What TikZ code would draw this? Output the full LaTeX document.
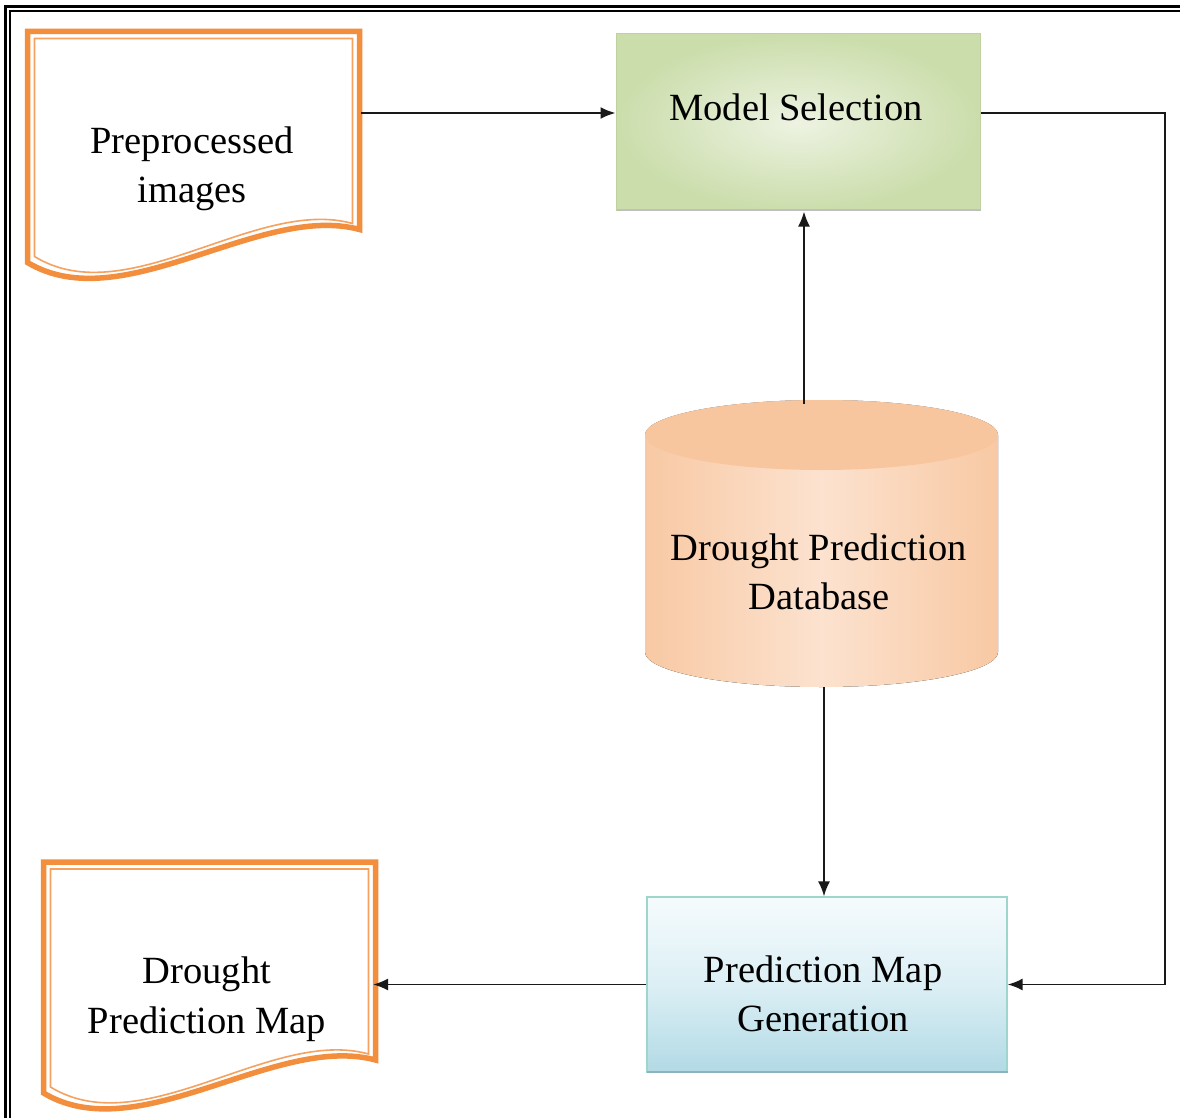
\documentclass[tikz,border=0pt]{standalone}
\usepackage{fontspec}
\setmainfont{Liberation Serif}
\usetikzlibrary{arrows.meta,calc}

\definecolor{docorange}{HTML}{F28E3C}
\definecolor{docorangelight}{HTML}{F5A261}
\definecolor{msout}{HTML}{CBDDAB}
\definecolor{msin}{HTML}{EDF3E2}
\definecolor{msedge}{HTML}{BFD19E}
\definecolor{pmgtop}{HTML}{F5FBFD}
\definecolor{pmgmid}{HTML}{DCEFF5}
\definecolor{pmgbot}{HTML}{B2DAE5}
\definecolor{pmgedge}{HTML}{9ED6CE}
\definecolor{pmgshadow}{HTML}{8DB4BE}
\definecolor{dbedge}{HTML}{F8C9A4}
\definecolor{dbmid}{HTML}{FCE2CF}
\definecolor{dbtop}{HTML}{F8C69E}

% document symbol: thick outer outline and thin inner outline with a wavy foot
\newcommand\docoutline[1]{%
  \filldraw[docouter]
    (#1.south east) -- (#1.north east) -- (#1.north west)
    -- ($(#1.south west)+(0,33)$)
    .. controls ($(#1.south west)+(95,90)$) and ($(#1.south east)+(-100,-27)$) .. (#1.south east)
    -- cycle;
  \draw[docinner]
    ($(#1.south east)+(-7,-6)$) -- ($(#1.north east)+(-7,7)$) -- ($(#1.north west)+(7,7)$)
    -- ($(#1.south west)+(7,27)$)
    .. controls ($(#1.south west)+(100,84)$) and ($(#1.south east)+(-104,-33)$) .. ($(#1.south east)+(-7,-6)$)
    -- cycle;
}

\begin{document}
\begin{tikzpicture}[x=1pt,y=-1pt,
  lbl/.style={font=\fontsize{38.5}{49.5}\selectfont, align=center, inner sep=0pt, text=black},
  frame/.style={draw=none, inner sep=0pt, outer sep=0pt},
  docouter/.style={draw=docorange, fill=white, line width=5.5pt, line join=miter},
  docinner/.style={draw=docorangelight, line width=1.6pt, line join=miter},
  conn/.style={draw=black!90, line width=1.9pt, -{Latex[length=15pt,width=12pt]}}
]
\useasboundingbox[fill=white] (0,0) rectangle (1180,1118);

% page frame (double rule)
\draw[line width=3pt] (5,1130) -- (5,7) -- (1190,7);
\draw[line width=1.5pt] (9.8,1130) -- (9.8,10.8) -- (1190,10.8);

% shapes
\node[frame, minimum width=332pt, minimum height=198pt] (pre) at (193.5,130.5) {};
\docoutline{pre}

\node[frame, minimum width=332pt, minimum height=198pt] (dpm) at (209.5,961) {};
\docoutline{dpm}

\node[draw=msedge, line width=1pt, inner color=msin, outer color=msout,
      minimum width=364pt, minimum height=177pt, inner sep=0pt] (ms) at (798,122.5) {};
\draw[line width=2pt, black!25] ($(ms.south west)+(1,-1)$) -- ($(ms.south east)+(0,-1)$);

\node[draw=pmgedge, line width=1.2pt, top color=pmgtop, bottom color=pmgbot, middle color=pmgmid,
      minimum width=360pt, minimum height=175pt, inner sep=0pt] (pmg) at (827,984.5) {};
\draw[line width=2pt, pmgshadow] ($(pmg.south west)+(1,-1)$) -- ($(pmg.south east)+(0,-1)$);

% database cylinder
\node[frame, minimum width=353pt, minimum height=287pt] (db) at (821.5,543.5) {};
\fill[left color=dbedge, right color=dbedge, middle color=dbmid]
  (645,435) -- (645,652)
  .. controls (645,671.3) and (724,687) .. (821.5,687)
  .. controls (919,687) and (998,671.3) .. (998,652)
  -- (998,435)
  .. controls (998,415.7) and (919,400) .. (821.5,400)
  .. controls (724,400) and (645,415.7) .. (645,435) -- cycle;
\fill[dbtop] (821.5,435) ellipse [x radius=176.5, y radius=35];

% labels
\node[lbl] (pre-t) at (192,169) {Preprocessed\\images};
\node[lbl] (ms-t) at (796,107) {Model Selection};
\node[lbl] (db-t) at (819,572) {Drought Prediction\\Database};
\node[lbl] (pmg-t) at (823,994) {Prediction Map\\Generation};
\node[lbl] (dpm-t) at (207,999) {Drought\\Prediction Map};

% connectors
\coordinate (preout) at (361,113);
\draw[conn] (preout) -- (preout -| ms.west);

\coordinate (bend) at (1165,113);
\draw[conn] (ms.east |- bend) -- (bend) |- (pmg.east);

\coordinate (dbup) at (804,404);
\draw[conn] (dbup) -- (dbup |- ms.south);

\coordinate (dbdown) at (824,687);
\draw[conn] (dbdown) -- (dbdown |- pmg.north);

\draw[conn, shorten >=-2.5pt] (pmg.west) -- (pmg.west -| dpm.east);
\end{tikzpicture}
\end{document}
